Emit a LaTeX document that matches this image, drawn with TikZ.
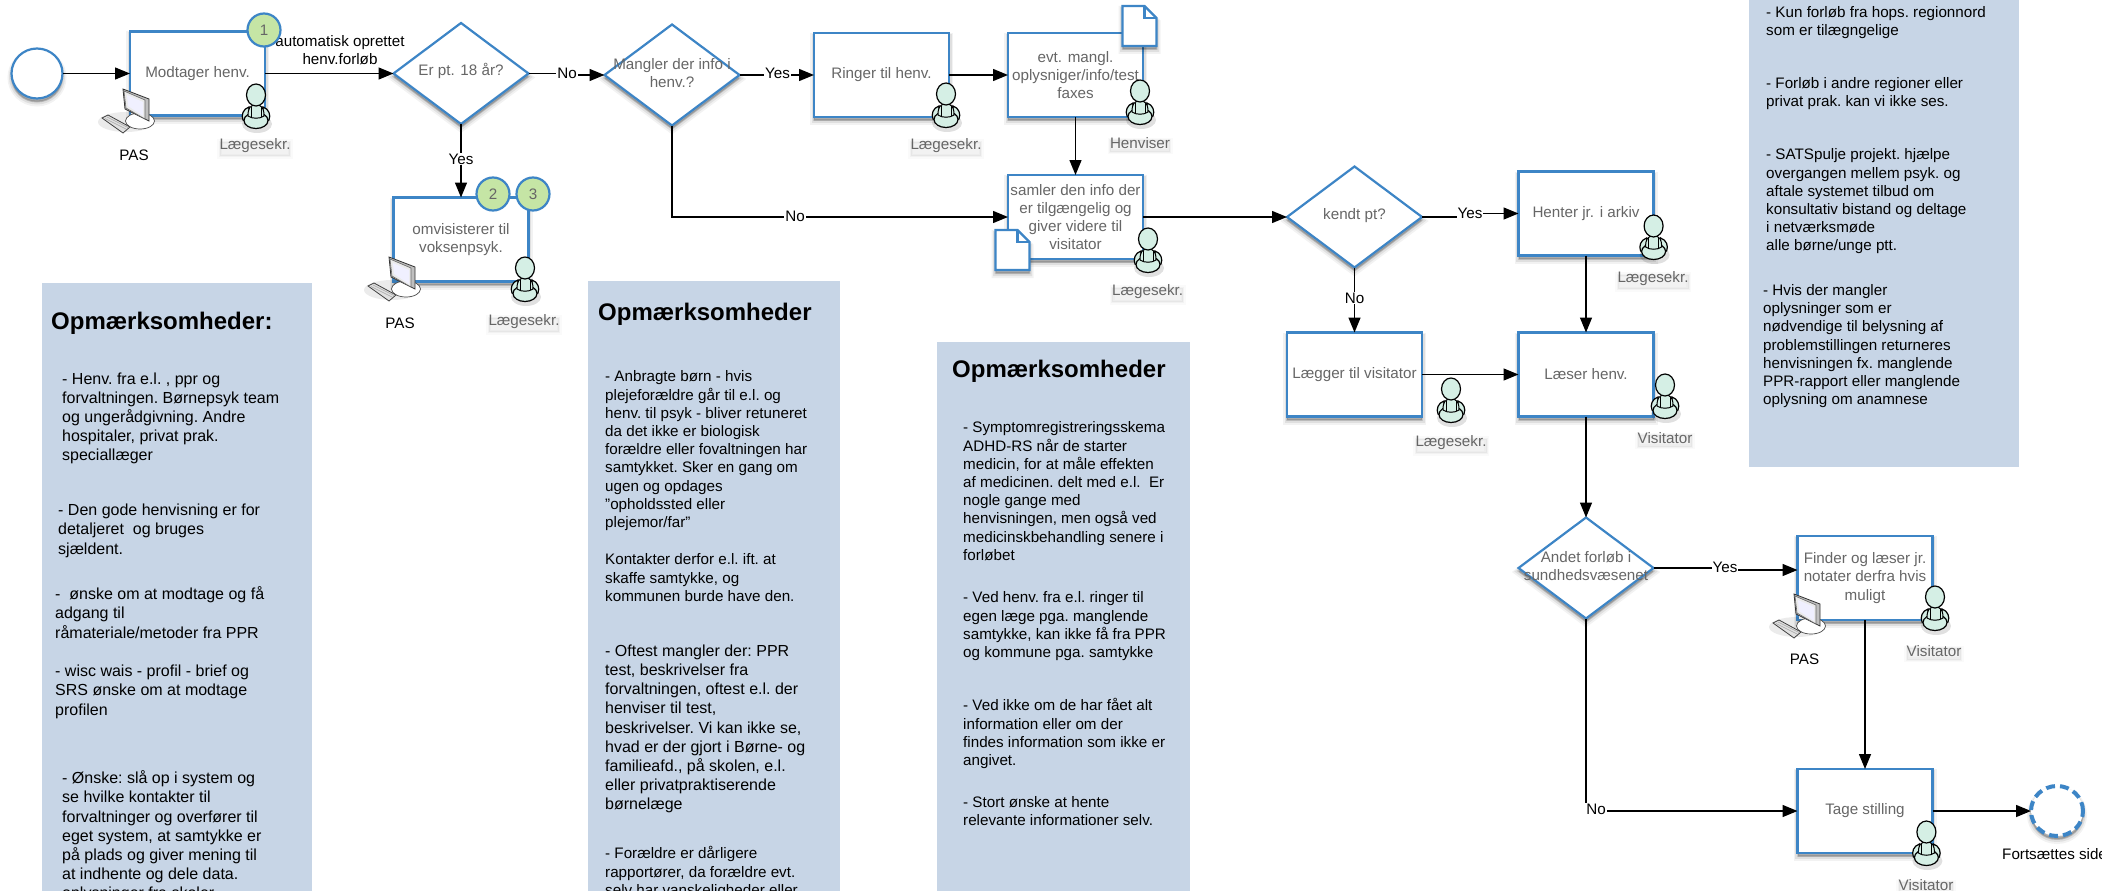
\documentclass[tikz,border=0pt]{standalone}
\usepackage{fontspec}
\setmainfont{Liberation Sans}
\usetikzlibrary{arrows.meta,shapes.geometric}
\definecolor{flowblue}{HTML}{3D85C6}
\definecolor{notefill}{HTML}{C7D5E6}
\definecolor{greytext}{HTML}{666666}
\definecolor{badgefill}{HTML}{C5E5A5}
\definecolor{personfill}{HTML}{D5EFE5}
\tikzset{
  softshadow/.style={
    preaction={draw=black,fill=black,solid,line width=8pt,draw opacity=.05,fill opacity=.05,transform canvas={yshift=-4pt}},
    preaction={draw=black,fill=black,solid,line width=5pt,draw opacity=.08,fill opacity=.08,transform canvas={yshift=-3.5pt}},
    preaction={draw=black,fill=black,solid,line width=2pt,draw opacity=.12,fill opacity=.12,transform canvas={yshift=-3pt}}},
  textshadow/.style={
    preaction={draw=black,fill=black,line width=5pt,draw opacity=.02,fill opacity=.02,transform canvas={yshift=-3pt}},
    preaction={draw=black,fill=black,line width=2pt,draw opacity=.03,fill opacity=.03,transform canvas={yshift=-3pt}}},
  procbox/.style={rectangle,draw=flowblue,line width=2.2pt,fill=white,softshadow,minimum width=135pt,minimum height=84pt,
    inner sep=0pt,outer sep=0pt,align=center,text=greytext,font=\fontsize{15.2}{18.2}\selectfont},
  decision/.style={diamond,draw=flowblue,line width=2.2pt,fill=white,softshadow,aspect=1.34,minimum width=135pt,minimum height=101pt,
    inner sep=0pt,outer sep=0pt},
  decisiontext/.style={align=center,text=greytext,inner sep=0pt,font=\fontsize{15.2}{18.2}\selectfont},
  startend/.style={ellipse,draw=flowblue,line width=2.2pt,fill=white,softshadow,minimum width=51pt,minimum height=50pt,inner sep=0pt,outer sep=0pt},
  endmark/.style={ellipse,draw=flowblue,line width=4pt,fill=white,softshadow,dash pattern=on 9pt off 5pt,minimum width=52pt,minimum height=50pt,inner sep=0pt,outer sep=0pt},
  badge/.style={circle,draw=flowblue,line width=2.2pt,fill=badgefill,minimum size=33pt,inner sep=0pt,text=greytext,font=\fontsize{15.2}{18}\selectfont},
  flow/.style={draw=black,line width=1.4pt,-{Triangle[length=15pt,width=12pt]}},
  edgelab/.style={fill=white,inner sep=1pt,text=black,font=\fontsize{15.2}{18}\selectfont},
  blacklab/.style={inner sep=0pt,text=black,align=center,font=\fontsize{15.2}{18}\selectfont},
  rolelab/.style={inner sep=0pt,text=greytext,textshadow,font=\fontsize{15.2}{18}\selectfont},
  notebox/.style={fill=notefill,draw=none},
  notehead/.style={anchor=west,inner sep=0pt,text=black,font=\fontsize{24}{28}\selectfont\bfseries},
  noteL/.style={anchor=north west,inner sep=0pt,yshift=-2pt,align=left,text=black,font=\fontsize{16}{19.2}\selectfont\frenchspacing},
  noteS/.style={anchor=north west,inner sep=0pt,yshift=-1pt,align=left,text=black,font=\fontsize{15.2}{18.2}\selectfont\frenchspacing},
  personicon/.pic={
    \fill[black,opacity=.12] (1,29) ellipse[x radius=15pt,y radius=9pt];
    \draw[black,line width=1.2pt,fill=personfill] (-7,12) .. controls (-13,14) and (-15,20) .. (-13,25) .. controls (-10,27) and (-8,24) .. (-7,20) -- cycle;
    \draw[black,line width=1.2pt,fill=personfill] (7,12) .. controls (13,14) and (15,20) .. (13,25) .. controls (10,27) and (8,24) .. (7,20) -- cycle;
    \draw[black,line width=1.2pt,fill=personfill] (0,25.5) ellipse[x radius=12pt,y radius=8pt];
    \draw[black,line width=1pt,fill=personfill] (-8,21) .. controls (-8,13) and (-6,10) .. (0,10) .. controls (6,10) and (8,13) .. (8,21) .. controls (4,24) and (-4,24) .. (-8,21) -- cycle;
    \draw[black,line width=.8pt] (-5,12) -- (-5,22) (5,12) -- (5,22);
    \draw[black,line width=1.2pt,fill=personfill] (0,0) ellipse[x radius=9.5pt,y radius=11pt];
  },
  pcicon/.pic={
    \fill[black,opacity=.08] (24,34) ellipse[x radius=28pt,y radius=10pt];
    \draw[black!70,line width=.7pt,fill=white] (38,33) ellipse[x radius=14.5pt,y radius=8pt];
    \draw[black!80,line width=.8pt,fill=black!25] (21,1) -- (47,11) -- (47,33) -- (23,21) -- cycle;
    \draw[black!60,line width=.6pt,fill=black!8] (22,3) -- (43,12) -- (43,31) -- (24,20) -- cycle;
    \fill[blue!6] (25,7) -- (41,14) -- (41,28) -- (26,18) -- cycle;
    \draw[black!75,line width=.8pt,fill=black!12] (0,30) -- (6,27) -- (28,39) -- (21,45) -- cycle;
    \draw[black!35,line width=.6pt] (3,30.5) -- (24,41) (5,29) -- (26,39.5);
  },
  docicon/.pic={
    \draw[flowblue,line width=2.2pt,fill=white,softshadow] (0,0) -- (22,0) -- (34,12) -- (34,40) -- (0,40) -- cycle;
    \draw[flowblue,line width=2.2pt] (22,0) -- (22,12) -- (34,12);
  }
}
\begin{document}
\begin{tikzpicture}[x=1pt,y=-1pt]
\useasboundingbox (0,0) rectangle (2102,891);
\clip (0,0) rectangle (2102,891);

% note panels
\fill[notebox] (42,283) rectangle (312,891);
\fill[notebox] (588,281) rectangle (840,891);
\fill[notebox] (937,342) rectangle (1190,891);
\fill[notebox] (1749,0) rectangle (2019,467);

\node[notehead] (titleA) at (51,323.5) {Opmærksomheder:};
\node[noteL] (a1) at (62,368.5) {\strut- Henv. fra e.l. , ppr og\\forvaltningen. Børnepsyk team\\og ungerådgivning. Andre\\hospitaler, privat prak.\\speciallæger};
\node[noteL] (a2) at (58,500) {\strut- Den gode henvisning er for\\detaljeret\ \ og bruges\\sjældent.};
\node[noteL] (a3) at (55,584) {\strut-\ \ ønske om at modtage og få\\adgang til\\råmateriale/metoder fra PPR};
\node[noteL] (a4) at (55,661) {\strut- wisc wais - profil - brief og\\SRS ønske om at modtage\\profilen};
\node[noteL] (a5) at (62,768) {\strut- Ønske: slå op i system og\\se hvilke kontakter til\\forvaltninger og overfører til\\eget system, at samtykke er\\på plads og giver mening til\\at indhente og dele data.\\oplysninger fra skoler};

\node[notehead] (titleB) at (598,314) {Opmærksomheder};
\node[noteS] (b1) at (605,368) {\strut- Anbragte børn - hvis\\plejeforældre går til e.l. og\\henv. til psyk - bliver retuneret\\da det ikke er biologisk\\forældre eller fovaltningen har\\samtykket. Sker en gang om\\ugen og opdages\\"opholdssted eller\\plejemor/far"};
\node[noteS] (b2) at (605,551) {\strut Kontakter derfor e.l. ift. at\\skaffe samtykke, og\\kommunen burde have den.};
\node[noteL] (b3) at (605,640.6) {\strut- Oftest mangler der: PPR\\test, beskrivelser fra\\forvaltningen, oftest e.l. der\\henviser til test,\\beskrivelser. Vi kan ikke se,\\hvad er der gjort i Børne- og\\familieafd., på skolen, e.l.\\eller privatpraktiserende\\børnelæge};
\node[noteS] (b4) at (605,845) {\strut- Forældre er dårligere\\rapportører, da forældre evt.\\selv har vanskeligheder eller};

\node[notehead] (titleC) at (952,371.5) {Opmærksomheder};
\node[noteS] (c1) at (963,419) {\strut- Symptomregistreringsskema\\ADHD-RS når de starter\\medicin, for at måle effekten\\af medicinen. delt med e.l.\ \ Er\\nogle gange med\\henvisningen, men også ved\\medicinskbehandling senere i\\forløbet};
\node[noteS] (c2) at (963,589) {\strut- Ved henv. fra e.l. ringer til\\egen læge pga. manglende\\samtykke, kan ikke få fra PPR\\og kommune pga. samtykke};
\node[noteS] (c3) at (963,697) {\strut- Ved ikke om de har fået alt\\information eller om der\\findes information som ikke er\\angivet.};
\node[noteS] (c4) at (963,793.6) {\strut- Stort ønske at hente\\relevante informationer selv.};

\node[noteS] (d1n) at (1766,3.6) {\strut- Kun forløb fra hops. regionnord\\som er tilægngelige};
\node[noteS] (d2n) at (1766,74.6) {\strut- Forløb i andre regioner eller\\privat prak. kan vi ikke ses.};
\node[noteS] (d3n) at (1766,146) {\strut- SATSpulje projekt. hjælpe\\overgangen mellem psyk. og\\aftale systemet tilbud om\\konsultativ bistand og deltage\\i netværksmøde\\alle børne/unge ptt.};
\node[noteS] (d4n) at (1763,281.6) {\strut- Hvis der mangler\\oplysninger som er\\nødvendige til belysning af\\problemstillingen returneres\\henvisningen fx. manglende\\PPR-rapport eller manglende\\oplysning om anamnese};

% flow shapes
\node[startend] (start) at (37,73.5) {};
\node[procbox] (modt) at (197.5,73.5) {Modtager henv.};
\node[decision] (dage) at (461,73.5) {};
\node[decisiontext] (dageT) at (461,71) {Er pt. 18 år?};
\node[procbox] (omv) at (461,239.5) {omvisisterer til\\voksenpsyk.};
\node[decision] (dinfo) at (672,75) {};
\node[decisiontext] (dinfoT) at (672,73) {Mangler der info i\\henv.?};
\node[procbox] (ring) at (881.5,75) {Ringer til henv.};
\node[procbox] (evt) at (1075.5,75) {evt. mangl.\\oplysniger/info/test\\faxes};
\node[procbox] (saml) at (1075.5,217) {samler den info der\\er tilgængelig og\\giver videre til\\visitator};
\node[decision] (dkendt) at (1354.5,217) {};
\node[decisiontext] (dkendtT) at (1354.5,216) {kendt pt?};
\node[procbox] (hent) at (1586,213.5) {Henter jr. i arkiv};
\node[procbox] (laeg) at (1354.5,374.5) {Lægger til visitator};
\node[procbox] (laes) at (1586,374.5) {Læser henv.};
\node[decision] (dandet) at (1586,568) {};
\node[decisiontext] (dandetT) at (1586,566) {Andet forløb i\\sundhedsvæsenet};
\node[procbox] (find) at (1865,578) {Finder og læser jr.\\notater derfra hvis\\muligt};
\node[procbox] (tage) at (1865,811) {Tage stilling};
\node[endmark] (slut) at (2057,811) {};

% step points of connectors
\coordinate (stepNo) at (567,74);
\coordinate (stepYesA) at (1470,215);
\coordinate (stepYesB) at (1725,569);
\coordinate (findIn) at ([yshift=8pt]find.west);

% connectors
\draw[flow] (start.east) -- (modt.west);
\draw[flow] (modt.east) -- (dage.west);
\draw[flow] (dage.south) -- (omv.north);
\draw[flow] (dage.east) -| (stepNo) |- (dinfo.west);
\draw[flow] (dinfo.east) -- (ring.west);
\draw[flow] (ring.east) -- (evt.west);
\draw[flow] (evt.south) -- (saml.north);
\draw[flow] (dinfo.south) |- (saml.west);
\draw[flow] (saml.east) -- (dkendt.west);
\draw[flow] (dkendt.east) -| (stepYesA) |- (hent.west);
\draw[flow] (dkendt.south) -- (laeg.north);
\draw[flow] (hent.south) -- (laes.north);
\draw[flow] (laeg.east) -- (laes.west);
\draw[flow] (laes.south) -- (dandet.north);
\draw[flow] (dandet.east) -| (stepYesB) |- (findIn);
\draw[flow] (dandet.south) |- (tage.west);
\draw[flow] (find.south) -- (tage.north);
\draw[flow] (tage.east) -- (slut.west);

% connector labels
\node[blacklab] (autoLab) at (340,50) {automatisk oprettet\\henv.forløb};
\node[edgelab] (yesAge) at (461,159) {Yes};
\node[edgelab] (noAge) at (567,73) {No};
\node[edgelab] (yesInfo) at (777.5,73.5) {Yes};
\node[edgelab] (noInfo) at (795,216) {No};
\node[edgelab] (yesKendt) at (1470,213) {Yes};
\node[edgelab] (noKendt) at (1354.5,298) {No};
\node[edgelab] (yesAndet) at (1725,567) {Yes};
\node[edgelab] (noAndet) at (1596,809.5) {No};

% badges
\node[badge] (b1badge) at (264,30) {1};
\node[badge] (b2badge) at (493,194) {2};
\node[badge] (b3badge) at (533,194) {3};

% documents
\pic at (1122.5,6) {docicon};
\pic at (995.5,230) {docicon};

% computers
\pic at (102,88) {pcicon};
\pic at (368,256) {pcicon};
\pic at (1773,593) {pcicon};
\node[blacklab] (pasA) at (134,155) {PAS};
\node[blacklab] (pasB) at (400,323) {PAS};
\node[blacklab] (pasC) at (1804.6,659) {PAS};

% people
\pic at (256,95) {personicon};
\pic at (525,268) {personicon};
\pic at (946,94) {personicon};
\pic at (1140,91) {personicon};
\pic at (1148,239) {personicon};
\pic at (1653.6,226) {personicon};
\pic at (1451,389) {personicon};
\pic at (1665,385) {personicon};
\pic at (1935,597) {personicon};
\pic at (1926.4,832) {personicon};
\node[rolelab] (rA) at (255,146) {Lægesekr.};
\node[rolelab] (rB) at (524,322) {Lægesekr.};
\node[rolelab] (rC) at (946,146) {Lægesekr.};
\node[rolelab] (rD) at (1140,143) {Henviser};
\node[rolelab] (rE) at (1147.7,292) {Lægesekr.};
\node[rolelab] (rF) at (1653,279) {Lægesekr.};
\node[rolelab] (rG) at (1451,443) {Lægesekr.};
\node[rolelab] (rH) at (1665,438) {Visitator};
\node[rolelab] (rI) at (1934,651) {Visitator};
\node[rolelab] (rJ) at (1926,885) {Visitator};
\node[blacklab,anchor=west] (cont) at (2002,854) {Fortsættes side};
\end{tikzpicture}
\end{document}
